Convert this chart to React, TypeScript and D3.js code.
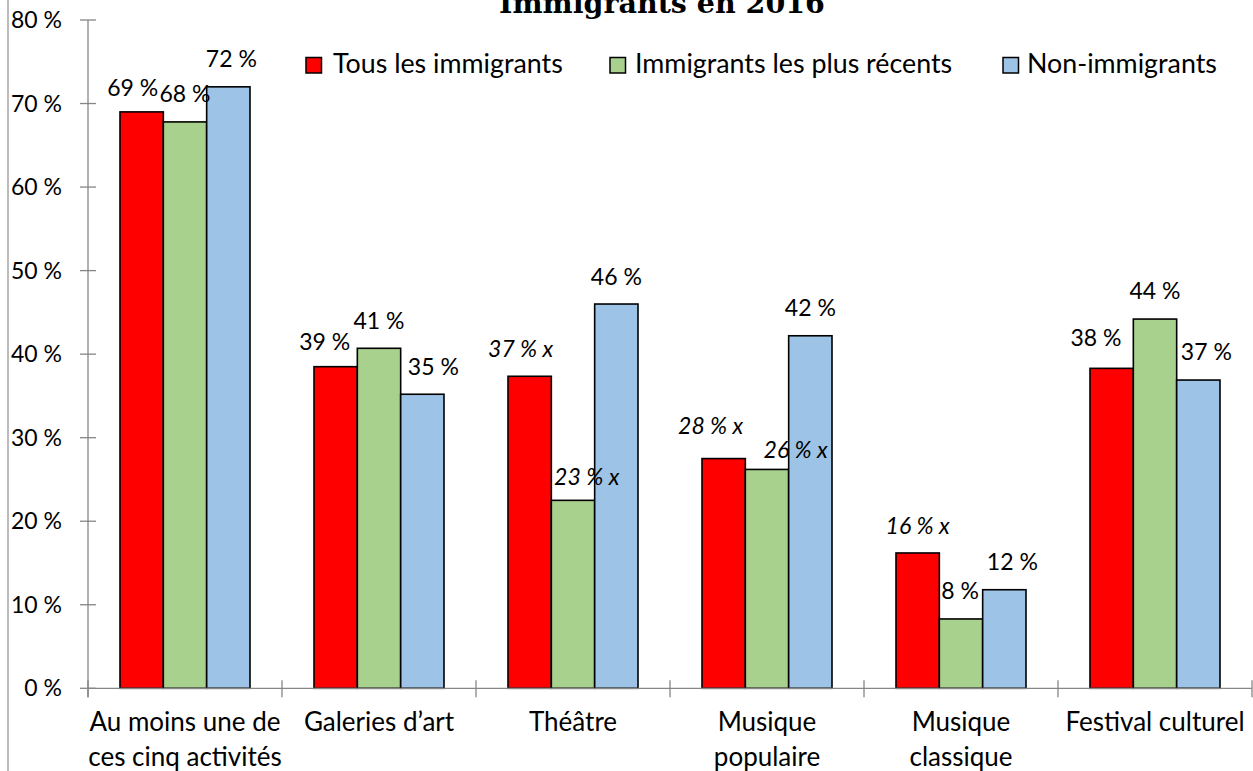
import React from "react";
import * as d3 from "d3";

const categoryLines: string[][] = [
  ["Au moins une de", "ces cinq activités"],
  ["Galeries d’art"],
  ["Théâtre"],
  ["Musique", "populaire"],
  ["Musique", "classique"],
  ["Festival culturel"],
];
const categories = categoryLines.map((l) => l.join(" "));

const seriesNames = ["Tous les immigrants", "Immigrants les plus récents", "Non-immigrants"];
const seriesColors = ["#ff0000", "#a9d18e", "#9dc3e6"];

const allImmigrants = [69.0, 38.5, 37.35, 27.5, 16.2, 38.3];
const recentImmigrants = [67.8, 40.7, 22.5, 26.2, 8.3, 44.2];
const nonImmigrants = [72.0, 35.2, 46.0, 42.2, 11.8, 36.9];

// "x" = use with caution (italic labels)
const allFlags = [false, false, true, true, true, false];
const recentFlags = [false, false, true, true, false, false];
const nonFlags = [false, false, false, false, false, false];

const yTicks = [0, 10, 20, 30, 40, 50, 60, 70, 80];

// label nudges [dx, dy] per series per category (layout only)
const labelNudges: [number, number][][] = [
  [[-9, 3.5], [-11, 3], [-9, 0], [-13, -5], [0, 1], [-15.7, -2.5]],
  [[0, 0], [0, 0], [13.7, 4.5], [28.7, 8.5], [-1, 0], [0, -1]],
  [[3, 0], [11, 0], [0, 0], [0, 0], [8, 0], [8, -1]],
];

const W = 1253;
const H = 771;

export default function App() {
  const values = [allImmigrants, recentImmigrants, nonImmigrants];
  const flags = [allFlags, recentFlags, nonFlags];

  const plotLeft = 88;
  const plotRight = 1252;
  const plotTop = 20;
  const plotBottom = 688.3;

  const x0 = d3
    .scaleBand<string>()
    .domain(categories)
    .range([plotLeft, plotRight])
    .paddingInner(64 / 194)
    .paddingOuter(32 / 194);
  const x1 = d3
    .scaleBand<string>()
    .domain(seriesNames)
    .range([0, x0.bandwidth()]);
  const y = d3.scaleLinear().domain([0, 80]).range([plotBottom, plotTop]);

  const step = x0.step();
  const catTicks = d3.range(categories.length + 1).map((i) => plotLeft + i * step);

  const font = "Lato, 'Noto Sans', sans-serif";
  const axisColor = "#868686";

  const legendItems = [
    { sq: 306, tx: 333 },
    { sq: 610, tx: 635 },
    { sq: 1003, tx: 1027 },
  ];

  return (
    <svg
      width={W}
      height={H}
      style={{ position: "absolute", left: 0, top: 0, background: "#fff" }}
      fontFamily={font}
    >
      <rect x={0} y={0} width={W} height={H} fill="#fff" />
      {/* left border */}
      <line x1={8} x2={8} y1={0} y2={H} stroke="#a6a6a6" strokeWidth={1.5} />

      {/* title (partially cut, as in the original) */}
      <text
        x={662}
        y={13}
        textAnchor="middle"
        fontFamily="'DejaVu Serif', serif"
        fontWeight="bold"
        fontSize={28.5}
        fill="#000"
      >
        Immigrants en 2016
      </text>

      {/* y axis */}
      <line x1={plotLeft} x2={plotLeft} y1={plotTop} y2={plotBottom + 9} stroke={axisColor} strokeWidth={1.3} />
      {yTicks.map((t) => (
        <g key={t}>
          <line x1={80} x2={96} y1={y(t)} y2={y(t)} stroke={axisColor} strokeWidth={1.3} />
          <text x={62} y={y(t)} dy="0.35em" textAnchor="end" fontSize={23} fill="#000">
            {t} %
          </text>
        </g>
      ))}

      {/* bars */}
      {categories.map((c, ci) => (
        <g key={c} transform={`translate(${x0(c)},0)`}>
          {seriesNames.map((s, si) => {
            const v = values[si][ci];
            return (
              <rect
                key={s}
                x={x1(s)}
                y={y(v)}
                width={x1.bandwidth()}
                height={y(0) - y(v)}
                fill={seriesColors[si]}
                stroke="#000"
                strokeWidth={1.6}
              />
            );
          })}
        </g>
      ))}

      {/* x axis */}
      <line x1={plotLeft} x2={plotRight} y1={plotBottom} y2={plotBottom} stroke={axisColor} strokeWidth={1.3} />
      {catTicks.map((t, i) => (
        <line key={i} x1={t} x2={t} y1={plotBottom - 8} y2={plotBottom + 9} stroke={axisColor} strokeWidth={1.3} />
      ))}

      {/* data labels */}
      {categories.map((c, ci) =>
        seriesNames.map((s, si) => {
          const v = values[si][ci];
          const flag = flags[si][ci];
          const [dx, dy] = labelNudges[si][ci];
          const cx = (x0(c) as number) + (x1(s) as number) + x1.bandwidth() / 2;
          return (
            <text
              key={`${c}-${s}`}
              x={cx + dx}
              y={y(v) - 19.5 + dy}
              textAnchor="middle"
              fontSize={23}
              fontStyle={flag ? "italic" : "normal"}
              fill="#000"
            >
              {`${Math.round(v)} %${flag ? " x" : ""}`}
            </text>
          );
        })
      )}

      {/* category labels */}
      {categories.map((c, ci) => (
        <text key={c} textAnchor="middle" fontSize={26} fill="#000">
          {categoryLines[ci].map((line, li) => (
            <tspan key={li} x={(x0(c) as number) + x0.bandwidth() / 2} y={731 + li * 35}>
              {line}
            </tspan>
          ))}
        </text>
      ))}

      {/* legend */}
      {seriesNames.map((s, si) => (
        <g key={s}>
          <rect
            x={legendItems[si].sq}
            y={57.5}
            width={15.5}
            height={15.5}
            fill={seriesColors[si]}
            stroke="#000"
            strokeWidth={1.5}
          />
          <text x={legendItems[si].tx} y={73} fontSize={26.8} fill="#000">
            {s}
          </text>
        </g>
      ))}
    </svg>
  );
}
